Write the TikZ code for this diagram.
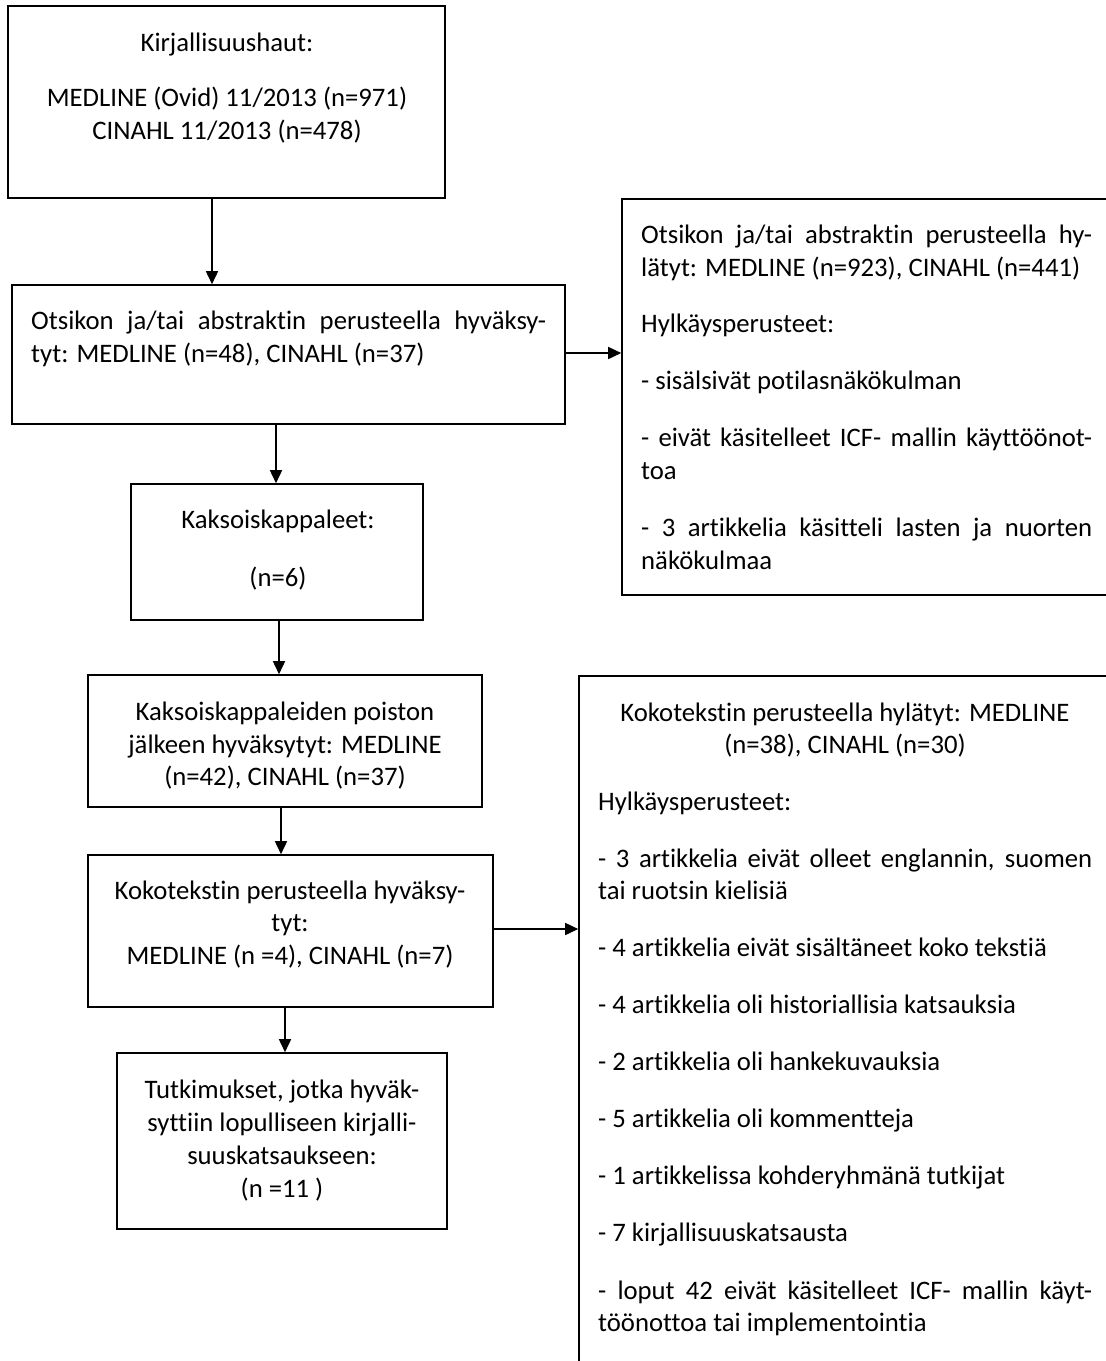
\documentclass[tikz,border=0pt]{standalone}
\usepackage{fontspec}
\setmainfont[Ligatures={NoCommon,NoRequired,NoContextual}]{Carlito}
\usetikzlibrary{arrows.meta,fit}
\begin{document}
\begin{tikzpicture}[x=1pt,y=-1pt,
  box/.style={draw=black,line width=1.6pt,inner sep=0pt,fit={#1}},
  arr/.style={line width=1.6pt,-{Triangle[length=13pt,width=12pt]}},
  tx/.style={anchor=base,inner sep=0pt,font=\fontsize{26.7}{32.6}\selectfont},
  tl/.style={tx,anchor=base west}]
\useasboundingbox (0,0) rectangle (1106,1361);
\clip (0,0) rectangle (1106,1361);
\fill[white] (0,0) rectangle (1106,1361);
% boxes
\node[box={(8,6)(445,198)}] (b1) {};
\node[box={(12,285)(565,424)}] (b2) {};
\node[box={(131,484)(423,620)}] (b3) {};
\node[box={(88,675)(482,807)}] (b4) {};
\node[box={(88,855)(493,1007)}] (b5) {};
\node[box={(117,1053)(447,1229)}] (b6) {};
\node[box={(622,199)(1115,595)}] (r1) {};
\node[box={(579,676)(1115,1375)}] (r2) {};
% connector x positions
\coordinate (x1) at (212,0);
\coordinate (x2) at (276,0);
\coordinate (x3) at (279,0);
\coordinate (x4) at (281,0);
\coordinate (x5) at (285,0);
\coordinate (yr1) at (0,353);
\coordinate (yr2) at (0,929);
\draw[arr] (b1.south -| x1) -- (b2.north -| x1);
\draw[arr] (b2.south -| x2) -- (b3.north -| x2);
\draw[arr] (b3.south -| x3) -- (b4.north -| x3);
\draw[arr] (b4.south -| x4) -- (b5.north -| x4);
\draw[arr] (b5.south -| x5) -- (b6.north -| x5);
\draw[arr] (b2.east |- yr1) -- (r1.west |- yr1);
\draw[arr] (b5.east |- yr2) -- (r2.west |- yr2);
% box 1
\node[tx] (t1a) at (227,51) {Kirjallisuushaut:};
\node[tx] (t1b) at (227,106) {MEDLINE (Ovid) 11/2013 (n=971)};
\node[tx] (t1c) at (227,139) {CINAHL 11/2013 (n=478)};
% box 2
\node[tl] (t2a) at (31,329) {\makebox[515pt][s]{Otsikon ja/tai abstraktin perusteella hyväksy-}};
\node[tl] (t2b) at (31,362) {tyt: MEDLINE (n=48), CINAHL (n=37)};
% box 3
\node[tx] (t3a) at (278,528) {Kaksoiskappaleet:};
\node[tx] (t3b) at (278,586) {(n=6)};
% box 4
\node[tx] (t4a) at (285,720) {Kaksoiskappaleiden poiston};
\node[tx] (t4b) at (285,753) {jälkeen hyväksytyt: MEDLINE};
\node[tx] (t4c) at (285,785) {(n=42), CINAHL (n=37)};
% box 5
\node[tx] (t5a) at (290,899) {Kokotekstin perusteella hyväksy-};
\node[tx] (t5b) at (290,931) {tyt:};
\node[tx] (t5c) at (290,964) {MEDLINE (n =4), CINAHL (n=7)};
% box 6
\node[tx] (t6a) at (282,1098) {Tutkimukset, jotka hyväk-};
\node[tx] (t6b) at (282,1131) {syttiin lopulliseen kirjalli-};
\node[tx] (t6c) at (282,1164) {suuskatsaukseen:};
\node[tx] (t6d) at (282,1197) {(n =11 )};
% right box 1
\node[tl] (r1a) at (641,243) {\makebox[451pt][s]{Otsikon ja/tai abstraktin perusteella hy-}};
\node[tl] (r1b) at (641,276) {lätyt: MEDLINE (n=923), CINAHL (n=441)};
\node[tl] (r1c) at (641,332) {Hylkäysperusteet:};
\node[tl] (r1d) at (641,389) {- sisälsivät potilasnäkökulman};
\node[tl] (r1e) at (641,446) {\makebox[451pt][s]{- eivät käsitelleet ICF- mallin käyttöönot-}};
\node[tl] (r1f) at (641,479) {toa};
\node[tl] (r1g) at (641,536) {\makebox[451pt][s]{- 3 artikkelia käsitteli lasten ja nuorten}};
\node[tl] (r1h) at (641,569) {näkökulmaa};
% right box 2
\node[tx] (r2a) at (845,721) {Kokotekstin perusteella hylätyt: MEDLINE};
\node[tx] (r2b) at (845,753) {(n=38), CINAHL (n=30)};
\node[tl] (r2c) at (598,810) {Hylkäysperusteet:};
\node[tl] (r2d) at (598,867) {\makebox[494pt][s]{- 3 artikkelia eivät olleet englannin, suomen}};
\node[tl] (r2e) at (598,899) {tai ruotsin kielisiä};
\node[tl] (r2f) at (598,956) {- 4 artikkelia eivät sisältäneet koko tekstiä};
\node[tl] (r2g) at (598,1013) {- 4 artikkelia oli historiallisia katsauksia};
\node[tl] (r2h) at (598,1070) {- 2 artikkelia oli hankekuvauksia};
\node[tl] (r2i) at (598,1127) {- 5 artikkelia oli kommentteja};
\node[tl] (r2j) at (598,1184) {- 1 artikkelissa kohderyhmänä tutkijat};
\node[tl] (r2k) at (598,1241) {- 7 kirjallisuuskatsausta};
\node[tl] (r2l) at (598,1299) {\makebox[494pt][s]{- loput 42 eivät käsitelleet ICF- mallin käyt-}};
\node[tl] (r2m) at (598,1331) {töönottoa tai implementointia};
\end{tikzpicture}
\end{document}
